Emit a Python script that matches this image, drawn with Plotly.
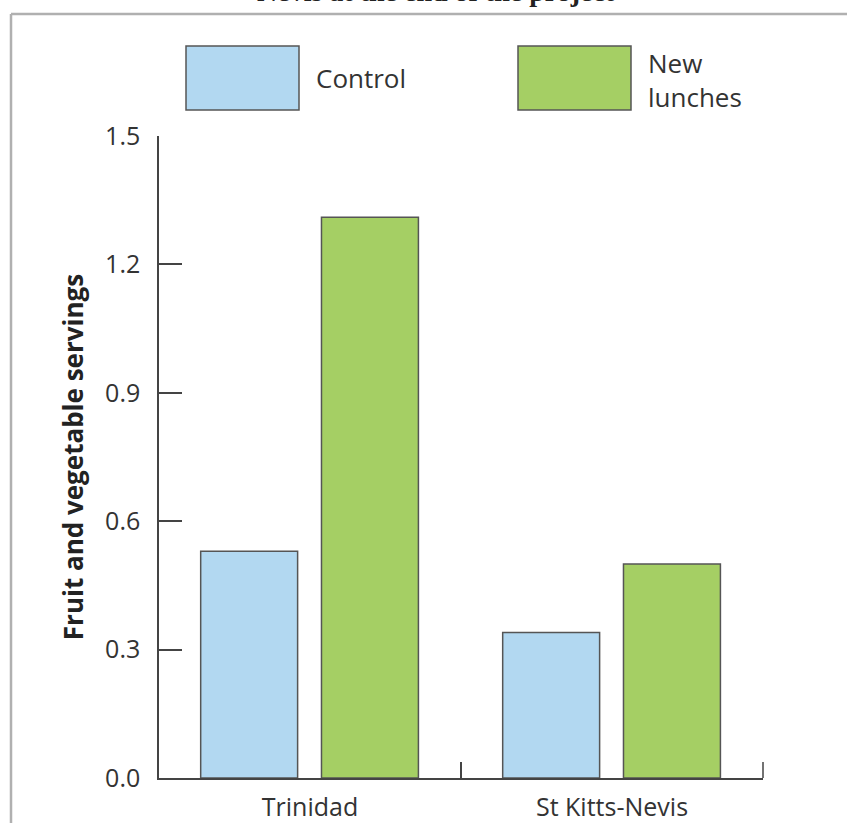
import plotly.graph_objects as go

categories = ["Trinidad", "St Kitts-Nevis"]
control = [0.53, 0.34]
new_lunches = [1.31, 0.50]
series_names = ["Control", "New<br>lunches"]
y_tickvals = [0.0, 0.3, 0.6, 0.9, 1.2, 1.5]
y_ticktext = ["0.0", "0.3", "0.6", "0.9", "1.2", "1.5"]

W, H = 847, 823
L, R, T, B = 159, 84, 136, 45
PW, PH = W - L - R, H - T - B

def px(x):
    return (x - L) / PW

def py(y):
    return (H - B - y) / PH

BLUE = "#B2D8F1"
GREEN = "#A5CF64"
EDGE = "#555555"
AXIS = "#444444"
FONT = "Open Sans"

BAR_W = 0.321
fig = go.Figure()
fig.add_trace(go.Bar(x=categories, y=control, name="Control", width=BAR_W, offset=-0.362,
                     marker=dict(color=BLUE, line=dict(color=EDGE, width=1.5))))
fig.add_trace(go.Bar(x=categories, y=new_lunches, name="New lunches", width=BAR_W, offset=0.038,
                     marker=dict(color=GREEN, line=dict(color=EDGE, width=1.5))))

shapes = [
    # outer frame (grey)
    dict(type="line", xref="paper", yref="paper", x0=px(11), x1=px(860), y0=py(14), y1=py(14),
         line=dict(color="#B0B0B0", width=2.5)),
    dict(type="line", xref="paper", yref="paper", x0=px(11), x1=px(11), y0=py(14), y1=py(840),
         line=dict(color="#B0B0B0", width=2.5)),
    # right-end x-axis tick
    dict(type="line", xref="paper", yref="paper", x0=1, x1=1, y0=0, y1=16 / PH,
         line=dict(color=AXIS, width=1.5)),
    # legend boxes
    dict(type="rect", xref="paper", yref="paper", x0=px(186), x1=px(299), y0=py(110), y1=py(46),
         fillcolor=BLUE, line=dict(color=EDGE, width=1.5)),
    dict(type="rect", xref="paper", yref="paper", x0=px(518), x1=px(631), y0=py(110), y1=py(46),
         fillcolor=GREEN, line=dict(color=EDGE, width=1.5)),
]

annotations = [
    dict(xref="paper", yref="paper", x=px(314), y=py(78), xanchor="left", yanchor="middle",
         text=series_names[0], showarrow=False, font=dict(family=FONT, size=26, color="#333333")),
    dict(xref="paper", yref="paper", x=px(646), y=py(80), xanchor="left", yanchor="middle",
         text=series_names[1], showarrow=False, align="left",
         font=dict(family=FONT, size=26, color="#333333")),
    dict(xref="paper", yref="paper", x=px(436), y=py(-8), xanchor="center", yanchor="middle",
         text="<b>Nevis at the end of the project</b>", showarrow=False,
         font=dict(family="Liberation Serif", size=28, color="#222222")),
]

fig.update_layout(
    width=W, height=H,
    margin=dict(l=L, r=R, t=T, b=B, pad=0),
    paper_bgcolor="white", plot_bgcolor="white",
    barmode="overlay",
    showlegend=False,
    shapes=shapes, annotations=annotations,
    font=dict(family=FONT, color="#333333"),
)
fig.update_xaxes(
    type="category", showline=True, linecolor=AXIS, linewidth=1.5,
    ticks="inside", ticklen=16, tickcolor=AXIS, tickwidth=1.5, tickson="boundaries",
    tickfont=dict(family=FONT, size=25, color="#333333"), showgrid=False, zeroline=False,
    range=[-0.5, 1.5], ticklabelstandoff=6, automargin=False,
)
fig.update_yaxes(
    range=[0, 1.5], tickvals=y_tickvals, ticktext=y_ticktext,
    showline=True, linecolor=AXIS, linewidth=1.5,
    ticks="inside", ticklen=23, tickcolor=AXIS, tickwidth=1.5,
    tickfont=dict(family=FONT, size=25, color="#333333"), showgrid=False, zeroline=False,
    ticklabelstandoff=12, automargin=False,
    title=dict(text="<b>Fruit and vegetable servings</b>", standoff=14,
               font=dict(family=FONT, size=26, color="#222222")),
)

fig.write_html("out.html", config={"displayModeBar": False},
               post_script="document.body.style.margin='0';")
